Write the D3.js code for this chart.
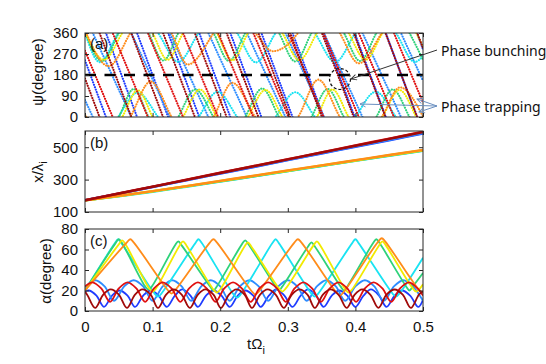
<!DOCTYPE html>
<html><head><meta charset="utf-8">
<script src="https://cdn.jsdelivr.net/npm/d3@7"></script>
<style>body{margin:0;background:#fff} svg{display:block}</style>
</head><body>
<svg id="chart" width="546" height="364"></svg>
<script>
// ---------- tick labels ----------
const tickT = [0, 0.1, 0.2, 0.3, 0.4, 0.5];
const tickPsi = [0, 90, 180, 270, 360];
const tickXl = [100, 300, 500];
const tickAlpha = [0, 20, 40, 60, 80];
const seriesNames = ["blue", "lightblue", "cyan", "green", "yellow", "orange", "red", "darkred"];

// ---------- panel (a): unwrapped phase psi (deg) vs t, pairs [t, psi] ----------
const psiBlue = [[0,243],[0.008,180],[0.054,-180],[0.100,-540],[0.146,-900],[0.192,-1260],[0.238,-1620],[0.284,-1980],[0.330,-2340],[0.376,-2700],[0.422,-3060],[0.468,-3420],[0.5,-3670]];
const psiLightblue = [[0,433],[0.040,180],[0.097,-180],[0.154,-540],[0.211,-900],[0.268,-1260],[0.325,-1620],[0.382,-1980],[0.439,-2340],[0.496,-2700],[0.5,-2725]];
const psiCyan = [[0,362],[0.022,235],[0.049,360],[0.078,465],[0.108,360],[0.138,236],[0.168,360],[0.196,468],[0.225,360],[0.253,234],[0.282,360],[0.311,466],[0.340,360],[0.370,235],[0.400,360],[0.430,468],[0.460,360],[0.488,236],[0.5,262]];
const psiGreen = [[0,365],[0.025,240],[0.050,360],[0.072,480],[0.094,360],[0.116,242],[0.138,360],[0.163,478],[0.190,360],[0.213,240],[0.237,360],[0.262,482],[0.287,360],[0.311,238],[0.335,360],[0.359,480],[0.383,360],[0.407,240],[0.431,360],[0.455,478],[0.480,360],[0.5,245]];
const psiYellow = [[0,368],[0.028,245],[0.055,360],[0.078,475],[0.100,360],[0.122,245],[0.145,360],[0.170,478],[0.195,360],[0.218,243],[0.241,360],[0.267,476],[0.292,360],[0.317,244],[0.343,360],[0.366,478],[0.390,360],[0.415,245],[0.440,360],[0.465,476],[0.490,360],[0.5,300]];
const psiOrange = [[0,372],[0.035,218],[0.067,360],[0.097,512],[0.128,360],[0.152,225],[0.190,360],[0.218,507],[0.252,360],[0.278,282],[0.315,360],[0.345,520],[0.377,360],[0.405,230],[0.439,360],[0.466,487],[0.5,362]];
const psiRed = [[0,284],[0.015,180],[0.067,-180],[0.119,-540],[0.171,-900],[0.223,-1260],[0.275,-1620],[0.327,-1980],[0.379,-2340],[0.431,-2700],[0.483,-3060],[0.5,-3178]];
const psiDarkred = [[0,525],[0.045,180],[0.092,-180],[0.139,-540],[0.186,-900],[0.233,-1260],[0.280,-1620],[0.327,-1980],[0.374,-2340],[0.421,-2700],[0.468,-3060],[0.5,-3305]];

// ---------- panel (b): x / lambda_i at t = tB ----------
const tB = [0,0.05,0.1,0.15,0.2,0.25,0.3,0.35,0.4,0.45,0.5];
const xBlue      = [172,213,254,296,337,378,420,461,502,543,584];
const xLightblue = [172,213,255,297,339,380,422,463,505,546,588];
const xCyan      = [172,197,225,256,288,320,352,384,416,447,478];
const xGreen     = [172,198,227,258,289,321,353,385,417,449,480];
const xYellow    = [172,199,228,259,291,323,355,387,418,450,481];
const xOrange    = [172,200,229,260,292,324,357,388,420,452,483];
const xRed       = [172,214,257,299,342,384,426,468,511,553,596];
const xDarkred   = [172,214,256,298,341,383,425,467,509,551,593];

// ---------- panel (c): pitch angle alpha (deg), pairs [t, alpha] ----------
const aBlue = [[0,19],[0.006,20],[0.017,15],[0.028,4],[0.040,15],[0.051,20],[0.063,15],[0.074,4],[0.086,15],[0.097,20],[0.109,15],[0.121,4],[0.133,15],[0.144,21],[0.156,15],[0.167,4],[0.179,15],[0.190,20],[0.202,15],[0.214,4],[0.226,15],[0.237,20],[0.249,15],[0.260,4],[0.272,15],[0.283,21],[0.295,15],[0.307,4],[0.319,15],[0.330,21],[0.342,15],[0.353,4],[0.365,15],[0.376,20],[0.388,15],[0.400,4],[0.412,15],[0.423,21],[0.435,15],[0.446,4],[0.458,15],[0.469,20],[0.481,15],[0.493,4],[0.5,11]];
const aLightblue = [[0,23],[0.015,30],[0.029,24],[0.043,10],[0.058,24],[0.072,30],[0.086,24],[0.100,10],[0.115,24],[0.129,30],[0.143,24],[0.157,10],[0.172,24],[0.186,30],[0.200,24],[0.214,10],[0.229,24],[0.243,30],[0.257,24],[0.271,10],[0.286,24],[0.300,30],[0.314,24],[0.328,10],[0.343,24],[0.357,30],[0.371,24],[0.385,10],[0.400,24],[0.414,30],[0.428,24],[0.442,10],[0.457,24],[0.471,30],[0.485,24],[0.5,10]];
const aCyan = [[0,20],[0.044,66],[0.049,70],[0.054,66],[0.103,17],[0.108,14],[0.113,17],[0.163,66],[0.168,70],[0.173,66],[0.220,16],[0.225,13],[0.230,16],[0.277,66],[0.282,70],[0.287,66],[0.335,17],[0.340,14],[0.345,17],[0.395,66],[0.400,70],[0.405,66],[0.455,17],[0.460,14],[0.465,17],[0.5,52]];
const aGreen = [[0,20],[0.045,66],[0.050,70],[0.055,66],[0.089,24],[0.094,21],[0.099,24],[0.133,64],[0.138,68],[0.143,64],[0.185,24],[0.190,20],[0.195,24],[0.232,65],[0.237,69],[0.242,65],[0.282,24],[0.287,20],[0.292,24],[0.330,63],[0.335,67],[0.340,63],[0.378,24],[0.383,20],[0.388,24],[0.426,66],[0.431,70],[0.436,66],[0.475,24],[0.480,20],[0.485,24],[0.5,37]];
const aYellow = [[0,20],[0.050,65],[0.055,69],[0.060,65],[0.095,22],[0.100,19],[0.105,22],[0.140,64],[0.145,68],[0.150,64],[0.190,21],[0.195,18],[0.200,21],[0.236,63],[0.241,67],[0.246,63],[0.287,22],[0.292,19],[0.297,22],[0.338,64],[0.343,68],[0.348,64],[0.385,21],[0.390,18],[0.395,21],[0.435,64],[0.440,68],[0.445,64],[0.485,22],[0.490,19],[0.5,26]];
const aOrange = [[0,20],[0.062,67],[0.067,70],[0.072,67],[0.123,20],[0.128,17],[0.133,20],[0.185,67],[0.190,70],[0.195,67],[0.247,19],[0.252,16],[0.257,19],[0.310,67],[0.315,70],[0.320,67],[0.372,18],[0.377,15],[0.382,18],[0.434,68],[0.439,71],[0.444,68],[0.495,20],[0.5,18]];
const aRed = [[0,24],[0.011,28],[0.024,22],[0.037,9],[0.050,22],[0.063,28],[0.076,22],[0.089,9],[0.102,22],[0.115,28],[0.128,22],[0.141,9],[0.154,22],[0.167,28],[0.180,22],[0.193,9],[0.206,22],[0.219,28],[0.232,22],[0.245,9],[0.258,22],[0.271,28],[0.284,22],[0.297,9],[0.310,22],[0.323,28],[0.336,22],[0.349,9],[0.362,22],[0.375,28],[0.388,22],[0.401,9],[0.414,22],[0.427,28],[0.440,22],[0.453,9],[0.466,22],[0.479,28],[0.492,22],[0.5,15]];
const aDarkred = [[0,19],[0.004,15],[0.015,3],[0.027,16],[0.038,21],[0.050,16],[0.062,3],[0.074,16],[0.085,21],[0.097,16],[0.108,3],[0.120,16],[0.131,21],[0.143,16],[0.155,3],[0.167,16],[0.178,21],[0.190,16],[0.201,3],[0.213,16],[0.224,21],[0.236,16],[0.247,3],[0.259,16],[0.270,21],[0.282,16],[0.294,3],[0.306,16],[0.317,21],[0.329,16],[0.340,3],[0.352,16],[0.363,21],[0.375,16],[0.387,3],[0.399,16],[0.410,21],[0.422,16],[0.434,3],[0.446,16],[0.458,21],[0.470,16],[0.482,3],[0.494,16],[0.5,19]];

// ---------- styles ----------
const colors = {blue:"#1f3cff", lightblue:"#2d8cff", cyan:"#19e3f2", green:"#2fd27a", yellow:"#f2ea00", orange:"#ff8c1a", red:"#e01010", darkred:"#a00a0a"};
const psiData = {blue:psiBlue, lightblue:psiLightblue, cyan:psiCyan, green:psiGreen, yellow:psiYellow, orange:psiOrange, red:psiRed, darkred:psiDarkred};
const xData = {blue:xBlue, lightblue:xLightblue, cyan:xCyan, green:xGreen, yellow:xYellow, orange:xOrange, red:xRed, darkred:xDarkred};
const aData = {blue:aBlue, lightblue:aLightblue, cyan:aCyan, green:aGreen, yellow:aYellow, orange:aOrange, red:aRed, darkred:aDarkred};
const FONT = "'Liberation Sans', Arial, Helvetica, sans-serif";

const svg = d3.select("#chart");
const x  = d3.scaleLinear().domain([0, 0.5]).range([85, 423]);
const yA = d3.scaleLinear().domain([0, 360]).range([117, 33]);
const yB = d3.scaleLinear().domain([100, 600]).range([212, 131]);
const yC = d3.scaleLinear().domain([0, 80]).range([311, 229]);

const defs = svg.append("defs");
defs.append("clipPath").attr("id","clipA").append("rect").attr("x",85).attr("y",33).attr("width",338).attr("height",84);
defs.append("clipPath").attr("id","clipB").append("rect").attr("x",85).attr("y",131).attr("width",338).attr("height",81);
defs.append("clipPath").attr("id","clipC").append("rect").attr("x",85).attr("y",229).attr("width",338).attr("height",82);
function marker(id, color){
  defs.append("marker").attr("id",id).attr("viewBox","0 0 10 10").attr("refX",9).attr("refY",5)
    .attr("markerWidth",7).attr("markerHeight",7).attr("orient","auto-start-reverse")
    .append("path").attr("d","M1,1 L9,5 L1,9").attr("fill","none").attr("stroke",color).attr("stroke-width",1.3);
}
marker("arrK","#333");
marker("arrB","#6a8fc0");

// ---------- panel (a) ----------
const gA = svg.append("g").attr("clip-path","url(#clipA)");
seriesNames.forEach(n => {
  const d = psiData[n];
  const lo = d3.min(d, p => p[1]), hi = d3.max(d, p => p[1]);
  for (let k = -3; k <= 12; k++) {
    const s = 360 * k;
    if (hi + s < 0 || lo + s > 360) continue;
    const line = d3.line().x(p => x(p[0])).y(p => yA(p[1] + s)).curve(d3.curveMonotoneX);
    gA.append("path").attr("d", line(d)).attr("fill","none").attr("stroke",colors[n])
      .attr("stroke-width",2.1).attr("stroke-linecap","round").attr("stroke-dasharray","0.1 2.5");
  }
});
svg.append("line").attr("x1",x(0)).attr("x2",x(0.5)).attr("y1",yA(180)).attr("y2",yA(180))
  .attr("stroke","#000").attr("stroke-width",2.6).attr("stroke-dasharray","11 8.5");

// ---------- panel (b) ----------
const gB = svg.append("g").attr("clip-path","url(#clipB)");
seriesNames.forEach(n => {
  const line = d3.line().x((v,i) => x(tB[i])).y(v => yB(v)).curve(d3.curveMonotoneX);
  gB.append("path").attr("d", line(xData[n])).attr("fill","none").attr("stroke",colors[n]).attr("stroke-width",2.4);
});

// ---------- panel (c) ----------
const gC = svg.append("g").attr("clip-path","url(#clipC)");
seriesNames.forEach(n => {
  const line = d3.line().x(p => x(p[0])).y(p => yC(p[1])).curve(d3.curveCatmullRom.alpha(0.5));
  gC.append("path").attr("d", line(aData[n])).attr("fill","none").attr("stroke",colors[n]).attr("stroke-width",1.8);
});

// ---------- axes & frames ----------
function axes(y, yTicks, showX){
  const g = svg.append("g");
  const [b, t] = y.range();
  g.append("g").attr("transform","translate(85,0)").call(d3.axisLeft(y).tickValues(yTicks).tickSizeInner(-4).tickSizeOuter(0).tickPadding(7));
  g.append("g").attr("transform","translate(423,0)").call(d3.axisRight(y).tickValues(yTicks).tickSizeInner(-4).tickSizeOuter(0).tickFormat(""));
  g.append("g").attr("transform",`translate(0,${t})`).call(d3.axisTop(x).tickValues(tickT).tickSizeInner(-4).tickSizeOuter(0).tickFormat(""));
  g.append("g").attr("transform",`translate(0,${b})`).call(d3.axisBottom(x).tickValues(tickT).tickSizeInner(-4).tickSizeOuter(0).tickPadding(10).tickFormat(showX ? (d => String(d)) : ""));
  g.selectAll(".domain").remove();
  g.selectAll("text").attr("font-size",15).attr("font-family",FONT).attr("fill","#111");
  g.selectAll("line").attr("stroke","#262626");
  svg.append("rect").attr("x",85).attr("y",t).attr("width",338).attr("height",b-t)
    .attr("fill","none").attr("stroke","#262626").attr("stroke-width",1);
}
axes(yA, tickPsi, false);
axes(yB, tickXl, false);
axes(yC, tickAlpha, true);

// panel letters
[["(a)",49],["(b)",148],["(c)",246]].forEach(([s,yy]) =>
  svg.append("text").attr("x",90).attr("y",yy).attr("font-size",15).attr("font-family",FONT).attr("fill","#111").text(s));

// y titles
function ytitle(cx, cy, main, sub){
  const t = svg.append("text").attr("transform",`translate(${cx},${cy}) rotate(-90)`).attr("text-anchor","middle")
    .attr("font-size",15).attr("font-family",FONT).attr("fill","#111");
  t.append("tspan").text(main);
  if (sub) t.append("tspan").attr("font-size",11).attr("dy",4).text(sub);
}
ytitle(43, 72, "ψ(degree)");
ytitle(43, 172, "x/λ", "i");
ytitle(51, 271, "α(degree)");

// x title
const xt = svg.append("text").attr("x",256).attr("y",349).attr("text-anchor","middle")
  .attr("font-size",15).attr("font-family",FONT).attr("fill","#111");
xt.append("tspan").text("tΩ");
xt.append("tspan").attr("font-size",11).attr("dy",5).text("i");

// ---------- annotations ----------
svg.append("circle").attr("cx",340).attr("cy",79).attr("r",10.5).attr("fill","none")
  .attr("stroke","#111").attr("stroke-width",1.2).attr("stroke-dasharray","3 2");
svg.append("line").attr("x1",437).attr("y1",50).attr("x2",351).attr("y2",79)
  .attr("stroke","#333").attr("stroke-width",1).attr("marker-end","url(#arrK)");
[[360,104],[417,99],[419,112]].forEach(([ex,ey]) =>
  svg.append("line").attr("x1",437).attr("y1",106).attr("x2",ex).attr("y2",ey)
    .attr("stroke","#6a8fc0").attr("stroke-width",1).attr("marker-end","url(#arrB)"));
svg.append("text").attr("x",441).attr("y",56).attr("font-size",14).attr("font-family","'Noto Sans', sans-serif").attr("fill","#111").text("Phase bunching");
svg.append("text").attr("x",441).attr("y",112).attr("font-size",14).attr("font-family","'Noto Sans', sans-serif").attr("fill","#111").text("Phase trapping");
</script>
</body></html>
